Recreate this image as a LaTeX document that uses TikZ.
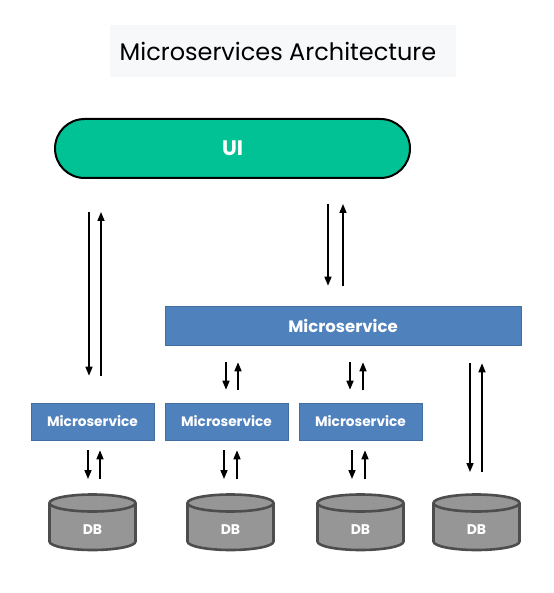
\documentclass[tikz,border=0pt]{standalone}
\usepackage{fontspec}
\setmainfont{Poppins}
\usetikzlibrary{arrows.meta}

\definecolor{uigreen}{HTML}{00C294}
\definecolor{msblue}{HTML}{4F81BD}
\definecolor{dbgray}{HTML}{969696}
\definecolor{dbedge}{HTML}{4D4D4D}
\definecolor{titlebg}{HTML}{F7F8FA}

\tikzset{
    msbox/.style={fill=msblue, draw=msblue!85!black, line width=0.6pt, text=white, inner sep=0pt},
    arr/.style={line width=1.5pt, -{Triangle[length=9pt,width=7pt]}},
    dbshape/.style={fill=dbgray, draw=dbedge, line width=2.6pt},
}

\begin{document}
\begin{tikzpicture}[x=1pt, y=-1pt]
    \useasboundingbox (0,0) rectangle (553,593);

    % Titre
    \fill[titlebg] (110,25) rectangle (456,77);
    \node[font=\fontsize{24}{28}\selectfont] (title) at (278,51) {Microservices Architecture};

    \node[draw, line width=2pt, fill=uigreen, rounded corners=29.5pt, minimum width=355pt, minimum height=59pt,
          text=white, font=\bfseries\fontsize{21}{24}\selectfont] (ui) at (232.5,148.5) {UI};

    \node[msbox, minimum width=356pt, minimum height=39pt, font=\bfseries\fontsize{16.5}{19}\selectfont] (bigms) at (343,325.5) {Microservice};
    \node[msbox, minimum width=123pt, minimum height=37pt, font=\bfseries\fontsize{13.7}{16}\selectfont] (ms1) at (92.5,421.5) {Microservice};
    \node[msbox, minimum width=123pt, minimum height=37pt, font=\bfseries\fontsize{13.7}{16}\selectfont] (ms2) at (226.5,421.5) {Microservice};
    \node[msbox, minimum width=123pt, minimum height=37pt, font=\bfseries\fontsize{13.7}{16}\selectfont] (ms3) at (360.5,421.5) {Microservice};

    % Bases de données
    \foreach \x/\i in {92.5/1, 230.5/2, 360.5/3, 476.5/4} {
        \filldraw[dbshape] (\x-43,503) -- (\x-43,541.5) arc[start angle=180, end angle=0, x radius=43, y radius=8.5]
            -- (\x+43,503) arc[start angle=0, end angle=-180, x radius=43, y radius=8.5] -- cycle;
        \draw[dbedge, line width=2.6pt] (\x-43,503) arc[start angle=180, end angle=0, x radius=43, y radius=8.5];
        \coordinate (dbtop\i) at (\x,493);
        \node[text=white, font=\bfseries\fontsize{14}{16}\selectfont] (db\i) at (\x,529.5) {DB};
    }

    % UI <-> Microservice
    \draw[arr, shorten <=33pt, shorten >=27pt] ([xshift=-3.5pt]ms1.north |- ui.south) -- ([xshift=-3.5pt]ms1.north);
    \draw[arr, shorten <=27pt, shorten >=33pt] ([xshift=8.5pt]ms1.north) -- ([xshift=8.5pt]ms1.north |- ui.south);

    \draw[arr, shorten <=25pt, shorten >=20pt] ([xshift=-15pt]bigms.north |- ui.south) -- ([xshift=-15pt]bigms.north);
    \draw[arr, shorten <=20pt, shorten >=25pt] (bigms.north) -- (bigms.north |- ui.south);

    % Microservice <-> Microservice
    \draw[arr, shorten <=17pt, shorten >=13pt] ([xshift=-0.5pt]ms2.north |- bigms.south) -- ([xshift=-0.5pt]ms2.north);
    \draw[arr, shorten <=13pt, shorten >=17pt] ([xshift=11.5pt]ms2.north) -- ([xshift=11.5pt]ms2.north |- bigms.south);

    \draw[arr, shorten <=17pt, shorten >=13pt] ([xshift=-10.5pt]ms3.north |- bigms.south) -- ([xshift=-10.5pt]ms3.north);
    \draw[arr, shorten <=13pt, shorten >=17pt] ([xshift=2.5pt]ms3.north) -- ([xshift=2.5pt]ms3.north |- bigms.south);

    % Microservice <-> DB
    \draw[arr, shorten <=18pt, shorten >=21pt] ([xshift=-6.5pt]dbtop4 |- bigms.south) -- ([xshift=-6.5pt]dbtop4);
    \draw[arr, shorten <=21pt, shorten >=18pt] ([xshift=5.5pt]dbtop4) -- ([xshift=5.5pt]dbtop4 |- bigms.south);

    \draw[arr, shorten <=10pt, shorten >=14pt] ([xshift=-4.5pt]ms1.south) -- ([xshift=-4.5pt]ms1.south |- dbtop1);
    \draw[arr, shorten <=14pt, shorten >=10pt] ([xshift=7.5pt]ms1.south |- dbtop1) -- ([xshift=7.5pt]ms1.south);

    \draw[arr, shorten <=10pt, shorten >=14pt] ([xshift=-2.5pt]ms2.south) -- ([xshift=-2.5pt]ms2.south |- dbtop2);
    \draw[arr, shorten <=14pt, shorten >=10pt] ([xshift=10.5pt]ms2.south |- dbtop2) -- ([xshift=10.5pt]ms2.south);

    \draw[arr, shorten <=10pt, shorten >=14pt] ([xshift=-8.5pt]ms3.south) -- ([xshift=-8.5pt]ms3.south |- dbtop3);
    \draw[arr, shorten <=14pt, shorten >=10pt] ([xshift=4.5pt]ms3.south |- dbtop3) -- ([xshift=4.5pt]ms3.south);
\end{tikzpicture}
\end{document}
